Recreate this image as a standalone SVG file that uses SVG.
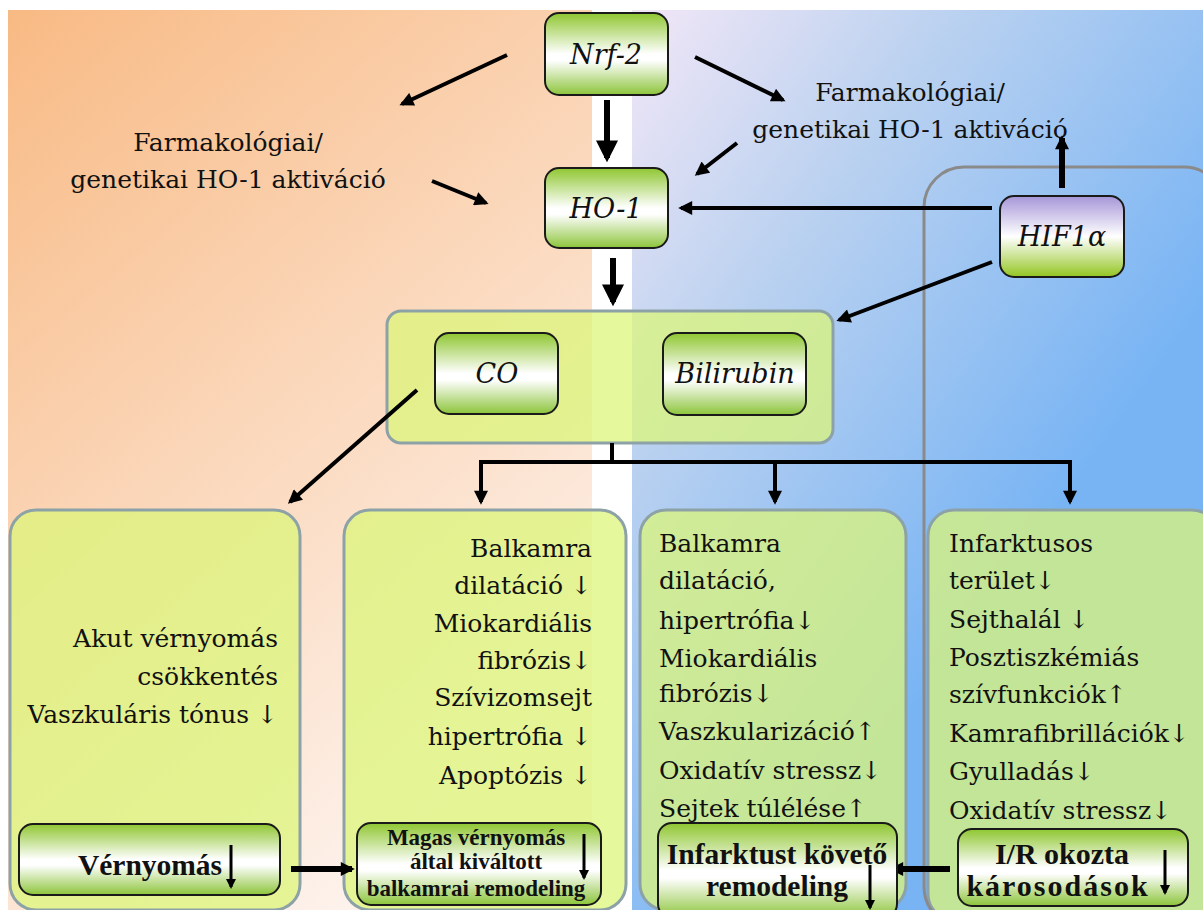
<svg xmlns="http://www.w3.org/2000/svg" width="1203" height="910" viewBox="0 0 1203 910">
<defs>
<linearGradient id="bgL" x1="8" y1="10" x2="592" y2="700" gradientUnits="userSpaceOnUse">
<stop offset="0" stop-color="#f8ba84"/><stop offset="1" stop-color="#fdf2ec"/>
</linearGradient>
<linearGradient id="bgR" x1="632" y1="10" x2="1150" y2="380" gradientUnits="userSpaceOnUse">
<stop offset="0" stop-color="#f3e7f7"/><stop offset="0.4" stop-color="#bcd2f0"/><stop offset="1" stop-color="#78b4f4"/>
</linearGradient>
<linearGradient id="gn" x1="0" y1="0" x2="0" y2="1">
<stop offset="0" stop-color="#8fc631"/><stop offset="0.5" stop-color="#ffffff"/><stop offset="0.58" stop-color="#ffffff"/><stop offset="1" stop-color="#8cc43a"/>
</linearGradient>
<linearGradient id="gh" x1="0" y1="0" x2="0" y2="1">
<stop offset="0" stop-color="#a596d8"/><stop offset="0.5" stop-color="#ffffff"/><stop offset="1" stop-color="#93c521"/>
</linearGradient>
<marker id="ah" viewBox="0 0 10 10" refX="8" refY="5" markerWidth="16" markerHeight="14" markerUnits="userSpaceOnUse" orient="auto">
<path d="M0,0 L10,5 L0,10 z" fill="#000"/>
</marker>
<marker id="ahb" viewBox="0 0 10 10" refX="8" refY="5" markerWidth="22" markerHeight="22" markerUnits="userSpaceOnUse" orient="auto">
<path d="M0,0 L10,5 L0,10 z" fill="#000"/>
</marker>
<marker id="ahs" viewBox="0 0 10 10" refX="8" refY="5" markerWidth="12" markerHeight="10" markerUnits="userSpaceOnUse" orient="auto">
<path d="M0,0 L10,5 L0,10 z" fill="#000"/>
</marker>
</defs>
<style>
.node{fill:url(#gn);stroke:#1a1a1a;stroke-width:2}
.box{fill:#dcf57a;fill-opacity:0.75;stroke:#8da2a6;stroke-width:3}
text{fill:#111}
.lbl{font-family:'DejaVu Serif',serif;font-style:italic;font-size:27px;text-anchor:middle}
.t{font-family:'DejaVu Serif',serif;font-size:25px}
.b{font-family:'Liberation Serif','DejaVu Serif',serif;font-weight:bold;font-size:29.5px;text-anchor:middle}
.bs{font-family:'Liberation Serif','DejaVu Serif',serif;font-weight:bold;font-size:23px;text-anchor:middle}
.c{stroke:#000;stroke-width:4;fill:none}
.cb{stroke:#000;stroke-width:6;fill:none}
</style>
<rect x="0" y="0" width="1203" height="910" fill="#fff"/>
<rect x="8" y="10" width="584" height="900" fill="url(#bgL)"/>
<rect x="632" y="10" width="571" height="900" fill="url(#bgR)"/>

<g id="texts-side">
<text class="t" x="228" y="151" text-anchor="middle">Farmakológiai/</text>
<text class="t" x="228" y="188" text-anchor="middle">genetikai HO-1 aktiváció</text>
<text class="t" x="910" y="101" text-anchor="middle">Farmakológiai/</text>
<text class="t" x="910" y="138" text-anchor="middle">genetikai HO-1 aktiváció</text>
</g>

<g id="group-co-bili">
<rect class="box" x="387" y="311" width="446" height="132" rx="14"/>
</g>
<g id="box1">
<rect class="box" x="10" y="510" width="290" height="400" rx="26"/>
<text class="t" x="278" y="647" text-anchor="end">Akut vérnyomás</text>
<text class="t" x="278" y="685" text-anchor="end">csökkentés</text>
<text class="t" x="278" y="723" text-anchor="end">Vaszkuláris tónus ↓</text>
</g>
<g id="box2">
<rect class="box" x="344" y="510" width="282" height="400" rx="26"/>
<text class="t" x="592" y="557" text-anchor="end">Balkamra</text>
<text class="t" x="592" y="594" text-anchor="end">dilatáció ↓</text>
<text class="t" x="592" y="632" text-anchor="end">Miokardiális</text>
<text class="t" x="592" y="669" text-anchor="end">fibrózis↓</text>
<text class="t" x="592" y="706" text-anchor="end">Szívizomsejt</text>
<text class="t" x="592" y="745" text-anchor="end">hipertrófia ↓</text>
<text class="t" x="592" y="784" text-anchor="end">Apoptózis ↓</text>
</g>
<g id="box3">
<rect class="box" x="640" y="510" width="266" height="400" rx="26"/>
<text class="t" x="659" y="552">Balkamra</text>
<text class="t" x="659" y="589">dilatáció,</text>
<text class="t" x="659" y="629">hipertrófia↓</text>
<text class="t" x="659" y="667">Miokardiális</text>
<text class="t" x="659" y="702">fibrózis↓</text>
<text class="t" x="659" y="740">Vaszkularizáció↑</text>
<text class="t" x="659" y="779">Oxidatív stressz↓</text>
<text class="t" x="659" y="817">Sejtek túlélése↑</text>
</g>
<g id="box4">
<rect class="box" x="928" y="510" width="290" height="410" rx="26"/>
<text class="t" x="949" y="552">Infarktusos</text>
<text class="t" x="949" y="589">terület↓</text>
<text class="t" x="949" y="628">Sejthalál ↓</text>
<text class="t" x="949" y="666">Posztiszkémiás</text>
<text class="t" x="949" y="703">szívfunkciók↑</text>
<text class="t" x="949" y="742">Kamrafibrillációk↓</text>
<text class="t" x="949" y="780">Gyulladás↓</text>
<text class="t" x="949" y="819">Oxidatív stressz↓</text>
</g>
<g id="hif-region">
<rect x="924" y="167" width="300" height="760" rx="40" fill="none" stroke="#8a8a8a" stroke-width="3"/>
</g>

<g id="connectors">
<line class="cb" x1="607" y1="100" x2="607" y2="158" marker-end="url(#ahb)"/>
<line class="cb" x1="613" y1="258" x2="613" y2="302" marker-end="url(#ahb)"/>
<line class="c" x1="507" y1="55" x2="402" y2="104" marker-end="url(#ah)"/>
<line class="c" x1="695" y1="57" x2="783" y2="100" marker-end="url(#ah)"/>
<line class="c" x1="432" y1="181" x2="486" y2="203" marker-end="url(#ah)"/>
<line class="c" x1="737" y1="143" x2="697" y2="174" marker-end="url(#ah)"/>
<line class="c" x1="992" y1="208" x2="681" y2="208" marker-end="url(#ah)"/>
<line class="cb" x1="1062" y1="188" x2="1062" y2="138" marker-end="url(#ah)"/>
<line class="c" x1="992" y1="262" x2="839" y2="320" marker-end="url(#ah)"/>
<line class="c" x1="417" y1="390" x2="290" y2="502" marker-end="url(#ah)"/>
<path class="c" d="M612,443 V462 M479,462 H1072"/>
<line class="c" x1="481" y1="462" x2="481" y2="502" marker-end="url(#ah)"/>
<line class="c" x1="775" y1="462" x2="775" y2="502" marker-end="url(#ah)"/>
<line class="c" x1="1070" y1="462" x2="1070" y2="502" marker-end="url(#ah)"/>
<line class="cb" x1="291" y1="869" x2="352" y2="869" marker-end="url(#ah)"/>
<line class="cb" x1="950" y1="869" x2="892" y2="869" marker-end="url(#ah)"/>
</g>

<g id="nrf2">
<rect class="node" x="545" y="13" width="123" height="82" rx="14"/>
<text class="lbl" x="606" y="64">Nrf-2</text>
</g>
<g id="ho1">
<rect class="node" x="545" y="168" width="123" height="80" rx="14"/>
<text class="lbl" x="606" y="218">HO-1</text>
</g>
<g id="hif1a">
<rect x="1000" y="196" width="124" height="81" rx="14" fill="url(#gh)" stroke="#1a1a1a" stroke-width="2"/>
<text class="lbl" x="1062" y="246">HIF1α</text>
</g>
<g id="co">
<rect class="node" x="435" y="333" width="123" height="81" rx="14"/>
<text class="lbl" x="497" y="383">CO</text>
</g>
<g id="bilirubin">
<rect class="node" x="663" y="333" width="143" height="82" rx="14"/>
<text class="lbl" x="735" y="383">Bilirubin</text>
</g>
<g id="vernyomas">
<rect class="node" x="19" y="824" width="261" height="71" rx="14"/>
<text class="b" x="150" y="875">Vérnyomás</text>
<line x1="231" y1="845" x2="231" y2="887" stroke="#000" stroke-width="3" marker-end="url(#ahs)"/>
</g>
<g id="magas">
<rect class="node" x="357" y="823" width="244" height="82" rx="14"/>
<text class="bs" x="476" y="845">Magas vérnyomás</text>
<text class="bs" x="476" y="869">által kiváltott</text>
<text class="bs" x="476" y="896">balkamrai remodeling</text>
<line x1="584" y1="834" x2="584" y2="878" stroke="#000" stroke-width="3" marker-end="url(#ahs)"/>
</g>
<g id="infarktust">
<rect class="node" x="658" y="823" width="239" height="95" rx="14"/>
<text class="b" x="777" y="864">Infarktust követő</text>
<text class="b" x="777" y="896">remodeling</text>
<line x1="870" y1="865" x2="870" y2="908" stroke="#000" stroke-width="3" marker-end="url(#ahs)"/>
</g>
<g id="ir">
<rect class="node" x="958" y="829" width="230" height="77" rx="14"/>
<text class="b" x="1062" y="864" style="font-size:30px">I/R okozta</text>
<text class="b" x="1058" y="896" style="font-size:30px;letter-spacing:2px">károsodások</text>
<line x1="1165" y1="850" x2="1165" y2="893" stroke="#000" stroke-width="3" marker-end="url(#ahs)"/>
</g>
</svg>
